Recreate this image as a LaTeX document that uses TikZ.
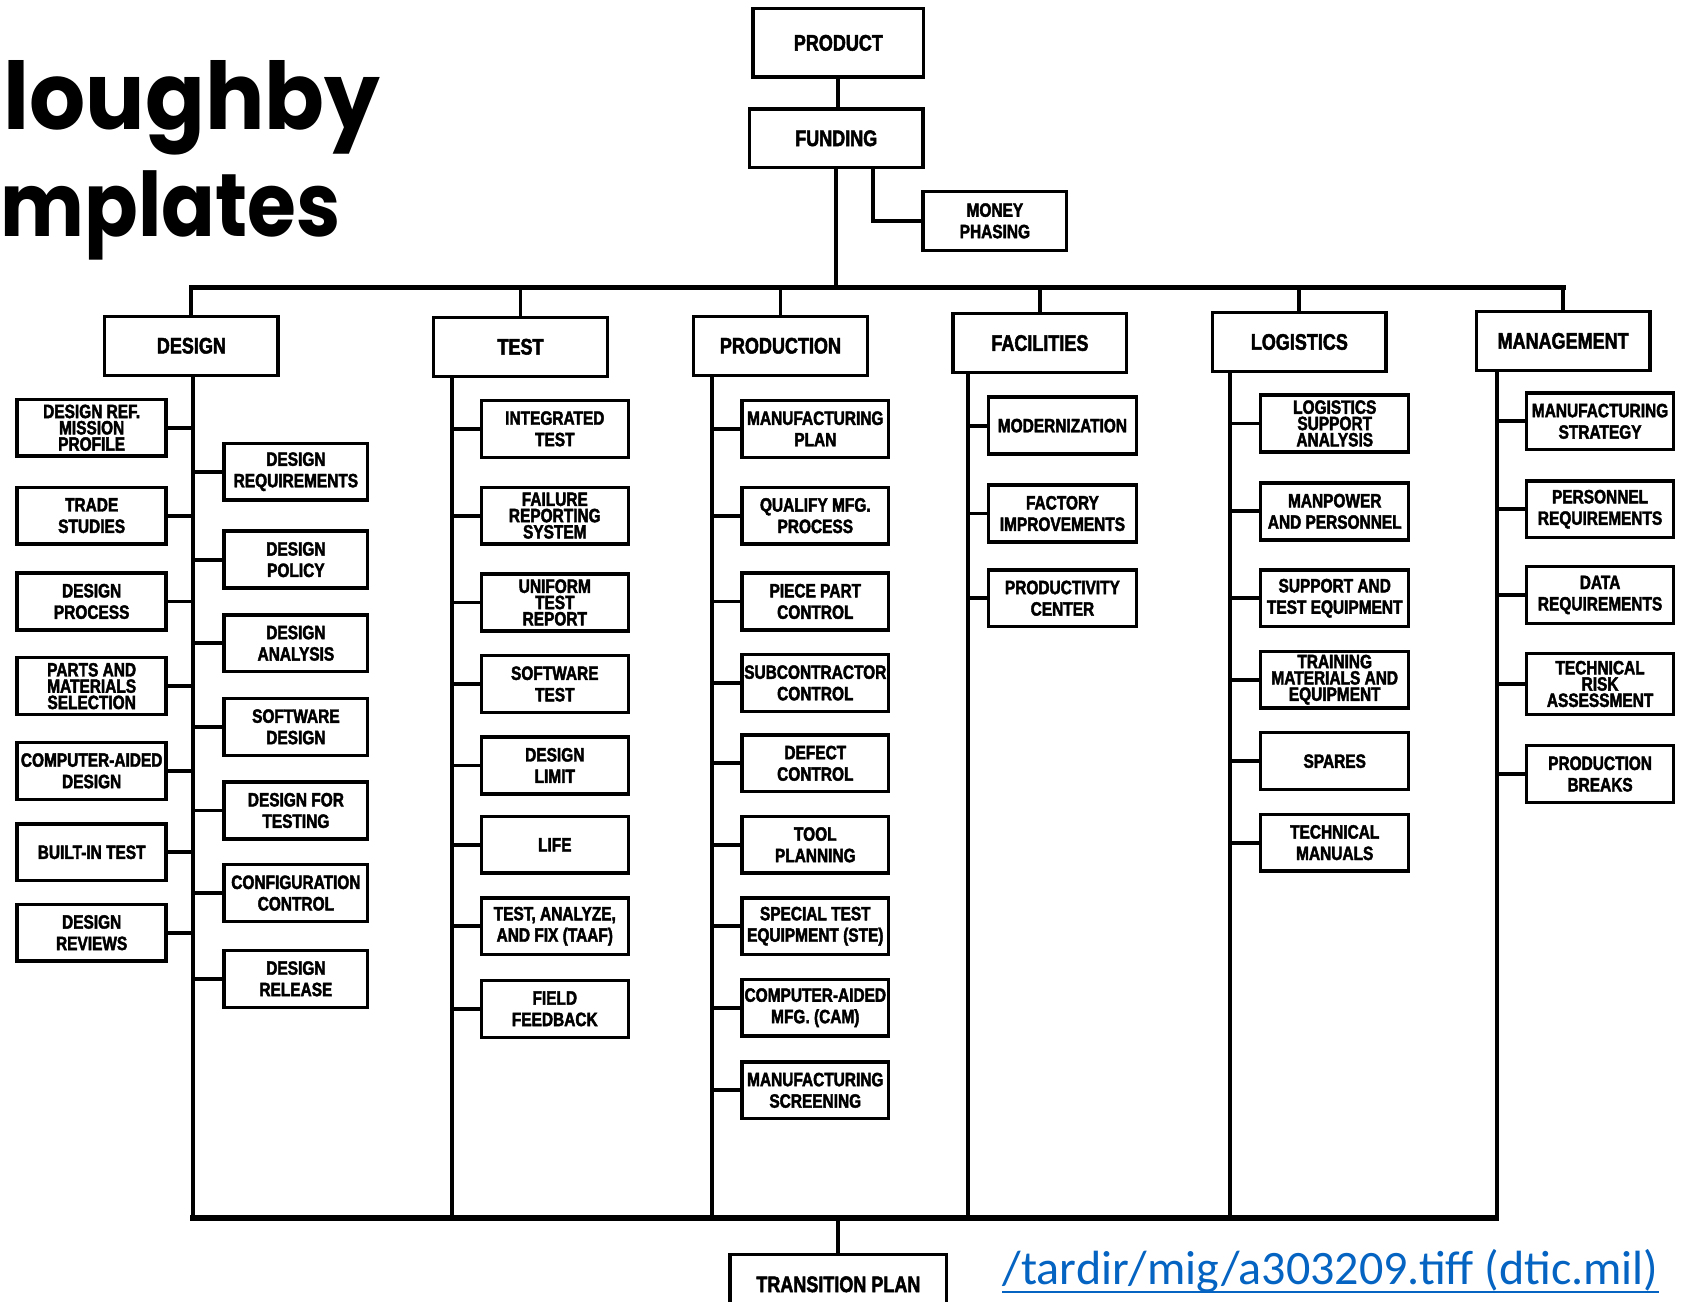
\documentclass[tikz,border=0pt]{standalone}
\usepackage{fontspec}
\newfontfamily\boxfont[FakeStretch=0.8, BoldFeatures={FakeBold=2.2}]{Liberation Sans}
\newfontfamily\titlefont{Poppins}
\newfontfamily\linkfont{Carlito}
\definecolor{linkblue}{RGB}{5,99,193}
\tikzset{
  top/.style={draw, line width=1.6pt, minimum width=81pt, minimum height=27.5pt,
    inner sep=0pt, align=center, font={\boxfont\bfseries\fontsize{10.5}{12}\selectfont}},
  child/.style={draw, line width=1.6pt, minimum width=68.5pt, minimum height=26.5pt,
    inner sep=0pt, align=center, font={\boxfont\bfseries\fontsize{9}{10}\selectfont}},
  tight/.style={font={\boxfont\bfseries\fontsize{9}{7.6}\selectfont}},
  conn/.style={line width=1.8pt, line cap=rect},
  bus/.style={line width=2.5pt, line cap=rect},
  heading/.style={anchor=base west, inner sep=0pt},
}
\begin{document}
\begin{tikzpicture}[x=0.5pt,y=-0.5pt]
\useasboundingbox (0,0) rectangle (1568,1214);

% heading
\node[heading, font={\titlefont\bfseries\fontsize{43.5}{44}\selectfont}] (head1) at (3,121) {\scalebox{0.946}[1]{loughby}};
\node[heading, font={\titlefont\bfseries\fontsize{41.5}{42}\selectfont}] (head2) at (0,221) {\scalebox{0.89}[1]{mplates}};

% root and funding
\node[top, minimum width=79.5pt, minimum height=32pt] (product) at (782,40) {PRODUCT};
\node[top] (funding) at (780,129) {FUNDING};
\node[child, minimum width=67pt, minimum height=27.5pt] (money) at (928,206) {MONEY\\PHASING};
\coordinate (mpx) at (814,206);
\draw[conn] (product.south) -- (product.south |- funding.north);
\draw[conn] (funding.south -| mpx) |- (money.west);

% main categories
\node[top] (design) at (178.5,322.5) {DESIGN};
\node[top] (test) at (485.5,323.5) {TEST};
\node[top] (production) at (728,322.5) {PRODUCTION};
\node[top] (facilities) at (970,320) {FACILITIES};
\node[top] (logistics) at (1212,319) {LOGISTICS};
\node[top] (management) at (1458,318) {MANAGEMENT};

\coordinate (bar) at (0,268);
\draw[conn] (funding.south) -- (funding.south |- bar);
\draw[bus] (design.north |- bar) -- (management.north |- bar);
\foreach \n in {design,test,production,facilities,logistics,management}
  \draw[conn] (\n.north) -- (\n.north |- bar);

% trunks and bottom bus
\coordinate (dtr) at (180,1136);
\coordinate (ttr) at (422,1136);
\coordinate (ptr) at (664,1136);
\coordinate (ftr) at (903,1136);
\coordinate (ltr) at (1147,1136);
\coordinate (mtr) at (1396,1136);
\draw[conn] (design.south -| dtr) -- (dtr);
\draw[conn] (test.south -| ttr) -- (ttr);
\draw[conn] (production.south -| ptr) -- (ptr);
\draw[conn] (facilities.south -| ftr) -- (ftr);
\draw[conn] (logistics.south -| ltr) -- (ltr);
\draw[conn] (management.south -| mtr) -- (mtr);
\draw[bus] (dtr) -- (mtr);

\node[top, minimum width=101pt, minimum height=28pt] (transition) at (782,1198) {TRANSITION PLAN};
\draw[conn] (transition.north) -- (transition.north |- dtr);

% design: left column
\node[child, tight, minimum width=69.5pt] (dl1) at (85.5,399) {DESIGN REF.\\MISSION\\PROFILE};
\node[child, minimum width=69.5pt] (dl2) at (85.5,481) {TRADE\\STUDIES};
\node[child, minimum width=69.5pt] (dl3) at (85.5,561) {DESIGN\\PROCESS};
\node[child, tight, minimum width=69.5pt] (dl4) at (85.5,640) {PARTS AND\\MATERIALS\\SELECTION};
\node[child, minimum width=69.5pt] (dl5) at (85.5,719) {COMPUTER-AIDED\\DESIGN};
\node[child, minimum width=69.5pt] (dl6) at (85.5,795) {BUILT-IN TEST};
\node[child, minimum width=69.5pt] (dl7) at (85.5,870) {DESIGN\\REVIEWS};
\foreach \i in {1,...,7} \draw[conn] (dl\i.east) -- (dl\i.east -| dtr);

% design: right column
\node[child, minimum width=67pt] (dr1) at (276,440) {DESIGN\\REQUIREMENTS};
\node[child, minimum width=67pt] (dr2) at (276,522) {DESIGN\\POLICY};
\node[child, minimum width=67pt] (dr3) at (276,600) {DESIGN\\ANALYSIS};
\node[child, minimum width=67pt] (dr4) at (276,678) {SOFTWARE\\DESIGN};
\node[child, minimum width=67pt] (dr5) at (276,756) {DESIGN FOR\\TESTING};
\node[child, minimum width=67pt] (dr6) at (276,833) {CONFIGURATION\\CONTROL};
\node[child, minimum width=67pt] (dr7) at (276,913) {DESIGN\\RELEASE};
\foreach \i in {1,...,7} \draw[conn] (dr\i.west) -- (dr\i.west -| dtr);

% test
\node[child] (t1) at (517.5,400) {INTEGRATED\\TEST};
\node[child, tight] (t2) at (517.5,481) {FAILURE\\REPORTING\\SYSTEM};
\node[child, tight] (t3) at (517.5,562) {UNIFORM\\TEST\\REPORT};
\node[child] (t4) at (517.5,638) {SOFTWARE\\TEST};
\node[child] (t5) at (517.5,714) {DESIGN\\LIMIT};
\node[child] (t6) at (517.5,788) {LIFE};
\node[child] (t7) at (517.5,864) {TEST, ANALYZE,\\AND FIX (TAAF)};
\node[child] (t8) at (517.5,941) {FIELD\\FEEDBACK};
\foreach \i in {1,...,8} \draw[conn] (t\i.west) -- (t\i.west -| ttr);

% production
\node[child] (p1) at (760.5,400) {MANUFACTURING\\PLAN};
\node[child] (p2) at (760.5,481) {QUALIFY MFG.\\PROCESS};
\node[child] (p3) at (760.5,561) {PIECE PART\\CONTROL};
\node[child] (p4) at (760.5,637) {SUBCONTRACTOR\\CONTROL};
\node[child] (p5) at (760.5,712) {DEFECT\\CONTROL};
\node[child] (p6) at (760.5,788) {TOOL\\PLANNING};
\node[child] (p7) at (760.5,864) {SPECIAL TEST\\EQUIPMENT (STE)};
\node[child] (p8) at (760.5,940) {COMPUTER-AIDED\\MFG. (CAM)};
\node[child] (p9) at (760.5,1017) {MANUFACTURING\\SCREENING};
\foreach \i in {1,...,9} \draw[conn] (p\i.west) -- (p\i.west -| ptr);

% facilities
\node[child, minimum width=69pt] (f1) at (991,397) {MODERNIZATION};
\node[child, minimum width=69pt] (f2) at (991,479) {FACTORY\\IMPROVEMENTS};
\node[child, minimum width=69pt] (f3) at (991,558) {PRODUCTIVITY\\CENTER};
\foreach \i in {1,...,3} \draw[conn] (f\i.west) -- (f\i.west -| ftr);

% logistics
\node[child, tight, minimum width=69pt] (l1) at (1245,395) {LOGISTICS\\SUPPORT\\ANALYSIS};
\node[child, minimum width=69pt] (l2) at (1245,477) {MANPOWER\\AND PERSONNEL};
\node[child, minimum width=69pt] (l3) at (1245,558) {SUPPORT AND\\TEST EQUIPMENT};
\node[child, tight, minimum width=69pt] (l4) at (1245,634) {TRAINING\\MATERIALS AND\\EQUIPMENT};
\node[child, minimum width=69pt] (l5) at (1245,710) {SPARES};
\node[child, minimum width=69pt] (l6) at (1245,786) {TECHNICAL\\MANUALS};
\foreach \i in {1,...,6} \draw[conn] (l\i.west) -- (l\i.west -| ltr);

% management
\node[child] (m1) at (1492.5,393) {MANUFACTURING\\STRATEGY};
\node[child] (m2) at (1492.5,475) {PERSONNEL\\REQUIREMENTS};
\node[child] (m3) at (1492.5,555) {DATA\\REQUIREMENTS};
\node[child, tight, minimum height=28.5pt] (m4) at (1492.5,638) {TECHNICAL\\RISK\\ASSESSMENT};
\node[child] (m5) at (1492.5,722) {PRODUCTION\\BREAKS};
\foreach \i in {1,...,5} \draw[conn] (m\i.west) -- (m\i.west -| mtr);

% source reference
\node[anchor=base west, inner sep=0pt, text=linkblue, font={\linkfont\fontsize{22.4}{23}\selectfont}] (url) at (935,1198) {/tardir/mig/a303209.tiff (dtic.mil)};
\draw[linkblue, line width=1pt] ([yshift=-3.5pt]url.base west) -- ([yshift=-3.5pt]url.base east);
\end{tikzpicture}
\end{document}
